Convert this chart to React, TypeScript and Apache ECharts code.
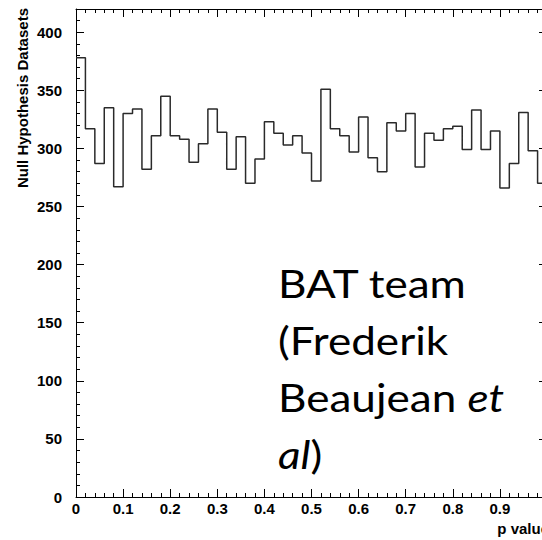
import React, { useEffect, useRef } from "react";
import * as echarts from "echarts";

// Histogram of p values: 50 bins of width 0.02 on [0, 1]
const binWidth = 0.02;
const counts = [
  378, 317, 287, 335, 267, 330, 334, 282, 311, 345,
  311, 308, 288, 304, 334, 314, 282, 310, 270, 291,
  323, 313, 303, 311, 296, 272, 351, 317, 311, 297,
  327, 292, 280, 322, 315, 330, 284, 313, 307, 317,
  319, 299, 333, 299, 315, 266, 287, 331, 298, 270,
];

const yTitle = "Null Hypothesis Datasets";
const xTitle = "p value";
const creditLines = [
  "{n|BAT team}",
  "{n|(Frederik}",
  "{n|Beaujean }{i|et}",
  "{i|al}{n|)}",
];

const labelFont = {
  fontFamily: "Liberation Sans",
  fontWeight: "bold" as const,
  fontSize: 15,
  color: "#000",
};

const black = { color: "#000", width: 1 };

function xAxisDef(position: "bottom" | "top", withLabels: boolean) {
  return {
    type: "value",
    position,
    min: 0,
    max: 1,
    interval: 0.1,
    axisLine: { show: true, onZero: false, lineStyle: black },
    axisTick: { show: true, inside: true, length: 8, lineStyle: black },
    minorTick: { show: true, splitNumber: 5, length: 4, lineStyle: black },
    splitLine: { show: false },
    axisLabel: withLabels
      ? {
          ...labelFont,
          margin: 4,
          showMaxLabel: false,
          formatter: (v: number) => String(Math.round(v * 10) / 10),
        }
      : { show: false },
  };
}

function yAxisDef(
  position: "left" | "right",
  interval: number,
  tickLen: number,
  withLine: boolean,
  withLabels: boolean
) {
  return {
    type: "value",
    position,
    min: 0,
    max: 420,
    interval,
    axisLine: { show: withLine, onZero: false, lineStyle: black },
    axisTick: { show: true, inside: true, length: tickLen, lineStyle: black },
    splitLine: { show: false },
    axisLabel: withLabels
      ? { ...labelFont, margin: 14, showMaxLabel: false }
      : { show: false },
  };
}

export default function App() {
  const ref = useRef<HTMLDivElement>(null);

  useEffect(() => {
    if (!ref.current) return;
    const chart = echarts.init(ref.current, null, { renderer: "svg" });

    // step points at each bin's lower edge, closed at the upper edge of the last bin
    const stepData = counts.map((c, i) => [i * binWidth, c]);
    stepData.push([counts.length * binWidth, counts[counts.length - 1]]);

    const textStyleBase = {
      fontFamily: "Lato",
      fontSize: 38,
      fill: "#000",
    };

    chart.setOption({
      animation: false,
      backgroundColor: "#fff",
      grid: { left: 76, top: 9, right: 13, bottom: 43 },
      xAxis: [xAxisDef("bottom", true), xAxisDef("top", false)],
      yAxis: [
        yAxisDef("left", 50, 8, true, true),
        yAxisDef("left", 10, 4, false, false),
        yAxisDef("right", 50, 8, true, false),
        yAxisDef("right", 10, 4, false, false),
      ],
      series: [
        {
          type: "line",
          xAxisIndex: 0,
          yAxisIndex: 0,
          step: "end",
          data: stepData,
          symbol: "none",
          showSymbol: false,
          lineStyle: { color: "#2a2a2a", width: 1.5 },
          clip: true,
        },
      ],
      graphic: [
        {
          type: "text",
          x: 22,
          y: 8,
          rotation: Math.PI / 2,
          style: {
            text: yTitle,
            font: 'bold 15px "Liberation Sans"',
            fill: "#000",
            align: "right",
            verticalAlign: "middle",
          },
        },
        {
          type: "text",
          x: 549,
          y: 528,
          style: {
            text: xTitle,
            font: 'bold 15px "Liberation Sans"',
            fill: "#000",
            align: "right",
            verticalAlign: "middle",
          },
        },
        ...creditLines.map((line, k) => ({
          type: "text",
          x: 278,
          y: 283 + k * 57,
          scaleX: 1.16,
          style: {
            ...textStyleBase,
            text: line,
            align: "left",
            verticalAlign: "middle",
            rich: {
              n: { ...textStyleBase, fontStyle: "normal" },
              i: { ...textStyleBase, fontStyle: "italic" },
            },
          },
        })),
      ],
    });

    return () => chart.dispose();
  }, []);

  return (
    <div
      style={{
        position: "absolute",
        left: 0,
        top: 0,
        width: 542,
        height: 540,
        overflow: "hidden",
        background: "#fff",
      }}
    >
      <div ref={ref} style={{ width: 560, height: 540 }} />
    </div>
  );
}
